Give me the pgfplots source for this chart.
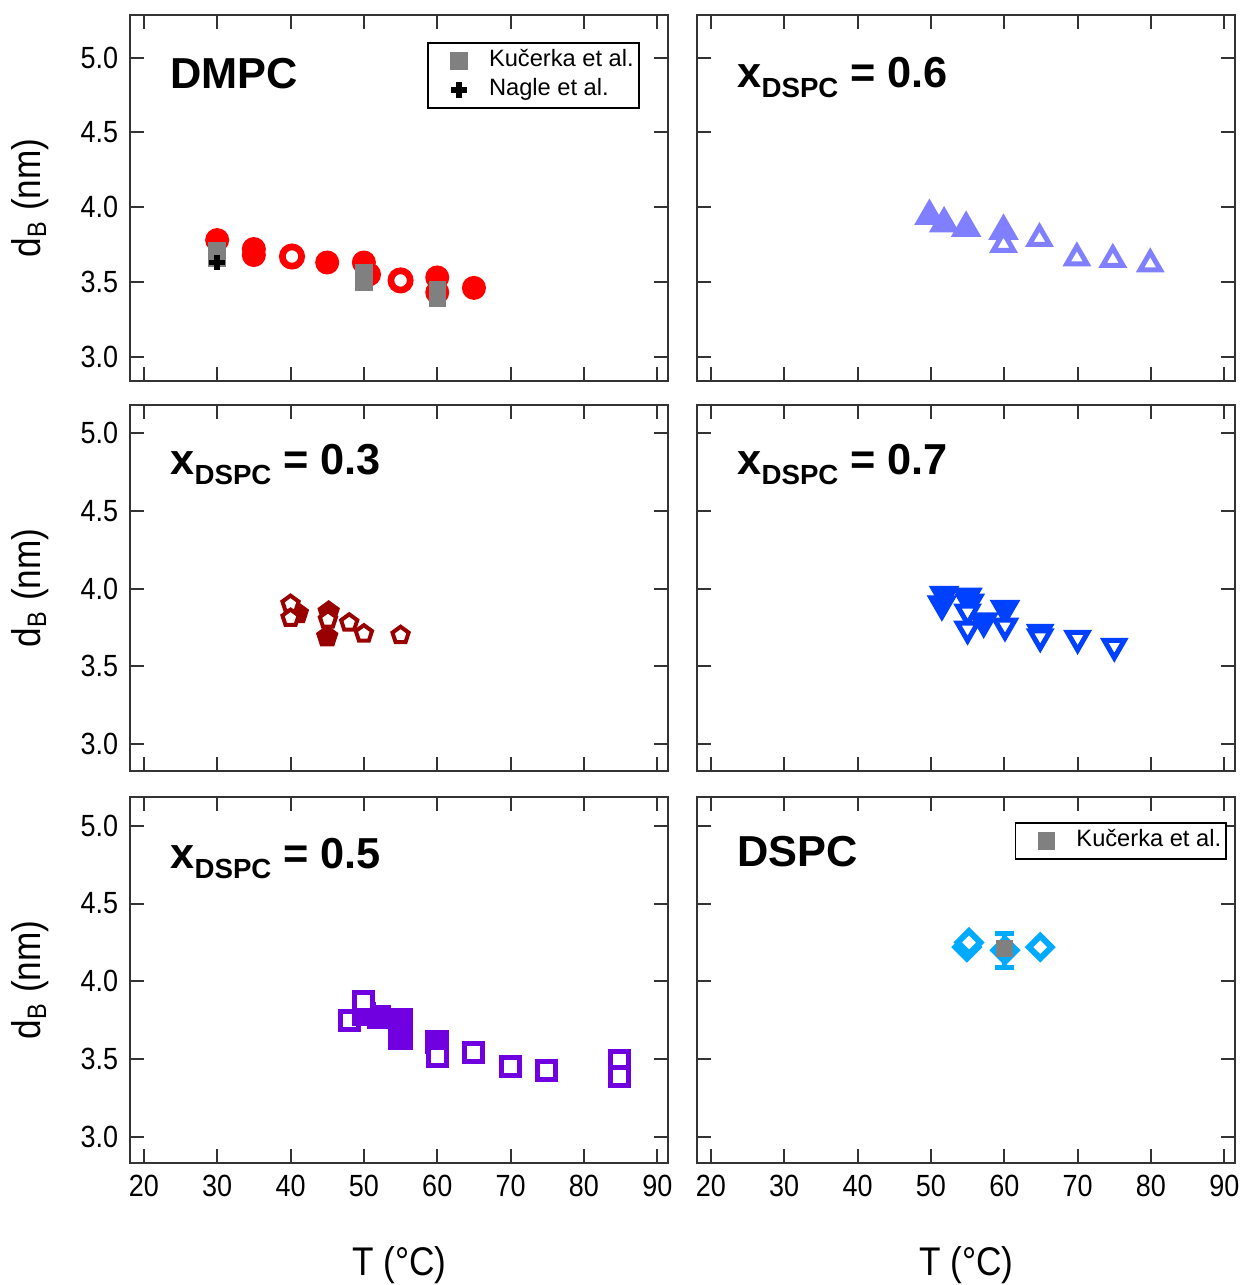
\documentclass[border=0pt]{standalone}
\usepackage{fontspec}
\setmainfont{Liberation Sans}
\newfontfamily\narrowfont[FakeStretch=0.88]{Liberation Sans}
\usepackage{pgfplots}
\pgfplotsset{compat=1.18}
\usetikzlibrary{plotmarks}

\definecolor{cred}{HTML}{FF0000}
\definecolor{cgrey}{HTML}{808080}
\definecolor{clav}{HTML}{7F7FFF}
\definecolor{cdred}{HTML}{990000}
\definecolor{cblue}{HTML}{0040FF}
\definecolor{cpurp}{HTML}{7000E0}
\definecolor{ccyan}{HTML}{00AAFF}

\tikzset{plab/.style={anchor=base west, inner sep=0pt, font=\bfseries\fontsize{13}{13}\selectfont}}
\pgfplotsset{
  panel/.style={
    scale only axis, width=161.5pt, height=109.8pt,
    xmin=18.12, xmax=91.5,
    xtick={20,30,40,50,60,70,80,90},
    ytick={3,3.5,4,4.5,5},
    xticklabels={}, yticklabels={},
    tick align=inside, major tick length=4.2pt,
    axis line style={line width=0.6pt, black!80},
    every tick/.append style={line width=0.6pt, black!80},
    tick label style={font=\narrowfont\fontsize{9.2}{10}\selectfont},
    /pgf/number format/assume math mode=true,
    label style={font=\narrowfont\fontsize{12}{13}\selectfont},
    legend cell align=left,
    legend style={draw=black, line width=0.5pt, font=\fontsize{7.1}{8.7}\selectfont,
      inner xsep=1.5pt, inner ysep=2pt, row sep=1.9pt,
      nodes={inner sep=0pt, text height=5.2pt, text depth=1.6pt}},
    legend image code/.code={
      \path[draw=none, fill=none] (-7.8pt,0pt) -- (9pt,0pt);
      \path[#1, draw=none] plot coordinates {(0pt,0pt)};},
  },
  row1/.style={ymin=2.837, ymax=5.286},
  row2/.style={ymin=2.827, ymax=5.18},
  row3/.style={ymin=2.832, ymax=5.185},
  leftcol/.style={yticklabels={3.0,3.5,4.0,4.5,5.0},
    ylabel={d\textsubscript{B} (nm)},
    ylabel style={at={(axis description cs:-0.186,0.5)}, anchor=center}},
  bottomrow/.style={xticklabels={20,30,40,50,60,70,80,90},
    xlabel={T (°C)},
    xlabel style={at={(axis description cs:0.5,-0.279)}, anchor=center}},
}
\newcommand{\xdspc}[1]{x\raisebox{-3pt}{\fontsize{8.3}{8.3}\selectfont DSPC} = #1}

\begin{document}
\begin{tikzpicture}
\path[use as bounding box] (0pt,0pt) rectangle (373.2pt,-385.5pt);

% DMPC
\begin{axis}[panel, row1, leftcol, at={(39pt,-4.5pt)}, anchor=north west,
  legend style={at={(0.552,0.926)}, anchor=north west}]
\addplot[only marks, mark=*, mark size=3.4pt, color=cred, forget plot] coordinates {
  (30,3.78) (35,3.72) (35,3.68) (45,3.63) (50,3.63) (50.7,3.55) (60,3.53) (60,3.43) (65,3.46)};
\addplot[only marks, mark=*, mark size=2.9pt, color=cred, mark options={fill=white, line width=2pt}, forget plot] coordinates {
  (40.2,3.67) (55,3.51)};
\addplot[only marks, mark=square*, mark size=2.4pt, color=cgrey, mark options={draw=cgrey}] coordinates {
  (30,3.71) (30,3.66) (50,3.56) (50,3.50) (60,3.45) (60,3.39)};
\addlegendentry{Kučerka et al.}
\addplot[only marks, mark=+, mark size=2.3pt, color=black, mark options={draw=black, line width=1.6pt}] coordinates {
  (30,3.63)};
\addlegendentry{Nagle et al.}
\node[plab] at (rel axis cs:0.074,0.798) {DMPC};
\end{axis}

% x = 0.6
\begin{axis}[panel, row1, at={(209.1pt,-4.5pt)}, anchor=north west]
\addplot[only marks, mark=triangle*, mark size=4.9pt, color=clav] coordinates {
  (49.8,3.94) (51.8,3.89) (54.8,3.86) (59.9,3.84)};
\addplot[only marks, mark=triangle*, mark size=3.5pt, color=clav, mark options={fill=white, line width=1.5pt}] coordinates {
  (59.9,3.75) (64.8,3.79) (69.9,3.66) (74.8,3.65) (79.9,3.62)};
\node[plab] at (rel axis cs:0.074,0.803) {\xdspc{0.6}};
\end{axis}

% x = 0.3
\begin{axis}[panel, row2, leftcol, at={(39pt,-121.5pt)}, anchor=north west]
\addplot[only marks, mark=pentagon*, mark size=3.3pt, color=cdred] coordinates {
  (41,3.84) (45.2,3.85) (45,3.69)};
\addplot[only marks, mark=pentagon*, mark size=2.55pt, color=cdred, mark options={fill=white, line width=1.2pt}] coordinates {
  (40,3.90) (40,3.81) (45.1,3.80) (48,3.78) (50,3.71) (55,3.70)};
\node[plab] at (rel axis cs:0.074,0.809) {\xdspc{0.3}};
\end{axis}

% x = 0.7
\begin{axis}[panel, row2, at={(209.1pt,-121.5pt)}, anchor=north west]
\addplot[only marks, mark=triangle*, mark size=4.9pt, color=cblue, mark options={rotate=180}] coordinates {
  (51.8,3.96) (51.5,3.90) (55,3.95) (55.3,3.91) (57.2,3.79) (60.1,3.87)};
\addplot[only marks, mark=triangle*, mark size=3.5pt, color=cblue, mark options={rotate=180, fill=white, line width=1.5pt}] coordinates {
  (55,3.85) (55,3.74) (60.1,3.76) (64.9,3.72) (64.9,3.69) (70,3.68) (75,3.63)};
\node[plab] at (rel axis cs:0.074,0.809) {\xdspc{0.7}};
\end{axis}

% x = 0.5
\begin{axis}[panel, row3, leftcol, bottomrow, at={(39pt,-239.1pt)}, anchor=north west]
\addplot[only marks, mark=square*, mark size=2.7pt, color=cpurp, mark options={fill=white, line width=1.5pt}] coordinates {
  (48,3.75)};
\addplot[only marks, mark=square*, mark size=3.45pt, color=cpurp] coordinates {
  (50,3.79) (52.1,3.77) (55,3.75) (55,3.70) (55,3.64) (60,3.61)};
\addplot[only marks, mark=square*, mark size=2.7pt, color=cpurp, mark options={fill=white, line width=1.5pt}] coordinates {
  (50,3.87) (60,3.52) (64.9,3.54) (70,3.45) (74.9,3.43) (84.9,3.49) (84.9,3.39)};
\node[plab] at (rel axis cs:0.074,0.806) {\xdspc{0.5}};
\end{axis}

% DSPC
\begin{axis}[panel, row3, bottomrow, at={(209.1pt,-239.1pt)}, anchor=north west,
  legend style={at={(0.59,0.932)}, anchor=north west}]
\addplot[only marks, mark=square*, mark size=2.4pt, color=ccyan, forget plot,
  mark options={rotate=45, fill=white, line width=1.8pt},
  error bars/.cd, y dir=both, y explicit,
  error bar style={line width=1.5pt, color=ccyan},
  error mark options={rotate=90, mark size=2.85pt, line width=1.5pt, color=ccyan}] coordinates {
  (54.9,4.22) (55.2,4.25) (60.1,4.20) +- (0,0.11) (64.9,4.22)};
\addplot[only marks, mark=square*, mark size=2.4pt, color=cgrey, mark options={draw=cgrey}] coordinates {
  (60,4.21)};
\addlegendentry{Kučerka et al.}
\node[plab] at (rel axis cs:0.074,0.81) {DSPC};
\end{axis}
\end{tikzpicture}
\end{document}
